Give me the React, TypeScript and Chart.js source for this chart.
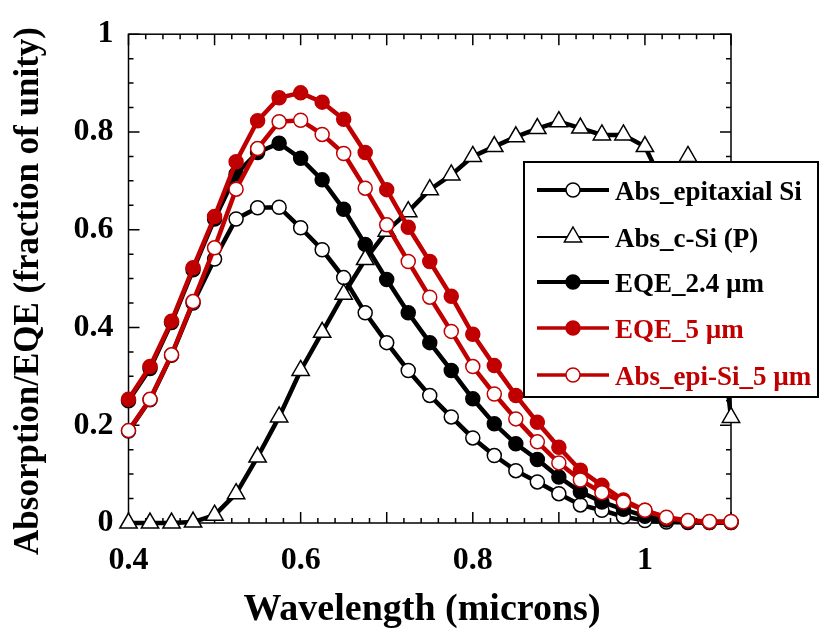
import React, { useEffect, useRef } from "react";
import { Chart, registerables } from "chart.js";

Chart.register(...registerables);

// ---------- data ----------
const wavelengths = [
  0.4, 0.425, 0.45, 0.475, 0.5, 0.525, 0.55, 0.575, 0.6, 0.625,
  0.65, 0.675, 0.7, 0.725, 0.75, 0.775, 0.8, 0.825, 0.85, 0.875,
  0.9, 0.925, 0.95, 0.975, 1.0, 1.025, 1.05, 1.075, 1.1,
];

const absEpitaxialSi = [
  0.188, 0.252, 0.343, 0.45, 0.54, 0.622, 0.645, 0.646, 0.604, 0.559,
  0.502, 0.43, 0.369, 0.312, 0.261, 0.217, 0.174, 0.138, 0.107, 0.084,
  0.06, 0.037, 0.026, 0.013, 0.005, 0.002, 0.001, 0.001, 0.001,
];

const absCSiP = [
  0.0, 0.0, 0.0, 0.002, 0.016, 0.06, 0.135, 0.217, 0.312, 0.39,
  0.468, 0.539, 0.597, 0.637, 0.682, 0.712, 0.75, 0.77, 0.79, 0.807,
  0.821, 0.808, 0.794, 0.794, 0.77, 0.68, 0.75, 0.6, 0.216,
];

const eqe24um = [
  0.25, 0.316, 0.41, 0.518, 0.622, 0.714, 0.758, 0.777, 0.746, 0.702,
  0.642, 0.57, 0.498, 0.43, 0.369, 0.312, 0.254, 0.203, 0.162, 0.13,
  0.094, 0.064, 0.043, 0.028, 0.014, 0.006, 0.002, 0.001, 0.001,
];

const eqe5um = [
  0.253, 0.32, 0.413, 0.522, 0.627, 0.739, 0.823, 0.87, 0.88, 0.861,
  0.826, 0.758, 0.682, 0.605, 0.535, 0.464, 0.386, 0.322, 0.261, 0.206,
  0.155, 0.108, 0.077, 0.047, 0.026, 0.01, 0.004, 0.002, 0.002,
];

const absEpiSi5um = [
  0.189, 0.253, 0.344, 0.453, 0.563, 0.683, 0.766, 0.821, 0.824, 0.795,
  0.756, 0.685, 0.61, 0.535, 0.462, 0.392, 0.32, 0.264, 0.213, 0.166,
  0.123, 0.088, 0.062, 0.043, 0.026, 0.012, 0.005, 0.003, 0.003,
];

const seriesNames = [
  "Abs_epitaxial Si",
  "Abs_c-Si (P)",
  "EQE_2.4 \u00b5m",
  "EQE_5 \u00b5m",
  "Abs_epi-Si_5 \u00b5m",
];

const xTickValues = [0.4, 0.6, 0.8, 1.0];
const xTickLabels = ["0.4", "0.6", "0.8", "1"];
const yTickValues = [0, 0.2, 0.4, 0.6, 0.8, 1.0];
const yTickLabels = ["0", "0.2", "0.4", "0.6", "0.8", "1"];

const xTitle = "Wavelength (microns)";
const yTitle = "Absorption/EQE (fraction of unity)";

// ---------- styles ----------
const RED = "#C00000";
const BLACK = "#000000";
const FONT = "'Liberation Serif', 'Times New Roman', Times, serif";

const toPoints = (ys: number[]) => wavelengths.map((x, i) => ({ x, y: ys[i] }));

type LegendStyle = {
  color: string;
  lineWidth: number;
  pointStyle: string;
  fill: string;
  radius: number;
};

const legendStyles: LegendStyle[] = [
  { color: BLACK, lineWidth: 4, pointStyle: "circle", fill: "#fff", radius: 7 },
  { color: BLACK, lineWidth: 2, pointStyle: "triangle", fill: "#fff", radius: 10 },
  { color: BLACK, lineWidth: 4, pointStyle: "circle", fill: BLACK, radius: 7 },
  { color: RED, lineWidth: 3.5, pointStyle: "circle", fill: RED, radius: 7 },
  { color: RED, lineWidth: 3.5, pointStyle: "circle", fill: "#fff", radius: 7 },
];

const framePlugin = {
  id: "frameTicks",
  beforeDatasetsDraw(chart: any) {
    const { ctx, chartArea } = chart;
    const { left, right, top, bottom } = chartArea;
    const xs = chart.scales.x;
    const ys = chart.scales.y;
    ctx.save();
    ctx.strokeStyle = "#000";
    ctx.lineWidth = 1.5;
    ctx.strokeRect(left, top, right - left, bottom - top);
    ctx.beginPath();
    for (let i = 0; i <= 35; i++) {
      const v = 0.4 + i * 0.02;
      const px = xs.getPixelForValue(v);
      const len = i % 5 === 0 ? 11 : 5;
      ctx.moveTo(px, bottom);
      ctx.lineTo(px, bottom - len);
      ctx.moveTo(px, top);
      ctx.lineTo(px, top + len);
    }
    for (let i = 0; i <= 20; i++) {
      const v = i * 0.05;
      const py = ys.getPixelForValue(v);
      const len = i % 4 === 0 ? 11 : 5;
      ctx.moveTo(left, py);
      ctx.lineTo(left + len, py);
      ctx.moveTo(right, py);
      ctx.lineTo(right - len, py);
    }
    ctx.stroke();
    ctx.restore();
  },
};

function drawMarker(ctx: CanvasRenderingContext2D, s: LegendStyle, x: number, y: number) {
  ctx.beginPath();
  if (s.pointStyle === "triangle") {
    const r = s.radius;
    ctx.moveTo(x, y - r);
    ctx.lineTo(x + r * 0.866, y + r * 0.5);
    ctx.lineTo(x - r * 0.866, y + r * 0.5);
    ctx.closePath();
  } else {
    ctx.arc(x, y, s.radius, 0, Math.PI * 2);
  }
  ctx.fillStyle = s.fill;
  ctx.fill();
  ctx.lineWidth = 1.5;
  ctx.strokeStyle = s.color;
  ctx.stroke();
}

const legendPlugin = {
  id: "boxLegend",
  afterDraw(chart: any) {
    const { ctx } = chart;
    const boxL = 524, boxT = 162, boxR = 818, boxB = 397;
    ctx.save();
    ctx.fillStyle = "#fff";
    ctx.fillRect(boxL, boxT, boxR - boxL, boxB - boxT);
    ctx.strokeStyle = "#000";
    ctx.lineWidth = 2;
    ctx.strokeRect(boxL, boxT, boxR - boxL, boxB - boxT);
    const rows = [190, 237, 282, 328, 375];
    seriesNames.forEach((name, i) => {
      const s = legendStyles[i];
      const y = rows[i];
      ctx.beginPath();
      ctx.strokeStyle = s.color;
      ctx.lineWidth = s.lineWidth;
      ctx.moveTo(537, y);
      ctx.lineTo(609, y);
      ctx.stroke();
      drawMarker(ctx, s, 573, y);
      ctx.fillStyle = s.color === RED ? RED : "#000";
      ctx.font = `bold 27px ${FONT}`;
      ctx.textAlign = "left";
      ctx.textBaseline = "alphabetic";
      ctx.fillText(name, 615, y + 9.5);
    });
    ctx.restore();
  },
};

const axisTitlePlugin = {
  id: "axisTitles",
  afterDraw(chart: any) {
    const { ctx } = chart;
    ctx.save();
    ctx.fillStyle = "#000";
    ctx.font = `bold 38px ${FONT}`;
    ctx.textAlign = "center";
    ctx.textBaseline = "alphabetic";
    ctx.fillText(xTitle, 422, 620);
    ctx.translate(29, 291);
    ctx.rotate(-Math.PI / 2);
    ctx.font = `bold 35px ${FONT}`;
    ctx.textBaseline = "middle";
    ctx.fillText(yTitle, 0, 0);
    ctx.restore();
  },
};

export default function App() {
  const canvasRef = useRef<HTMLCanvasElement | null>(null);

  useEffect(() => {
    document.body.style.margin = "0";
    const canvas = canvasRef.current;
    if (!canvas) return;

    const common = { showLine: true, clip: false as any, tension: 0 };
    const chart = new Chart(canvas, {
      type: "scatter",
      data: {
        datasets: [
          {
            ...common,
            label: seriesNames[0],
            data: toPoints(absEpitaxialSi),
            borderColor: BLACK,
            borderWidth: 4.5,
            pointStyle: "circle",
            pointRadius: 7,
            pointBackgroundColor: "#fff",
            pointBorderColor: BLACK,
            pointBorderWidth: 1.5,
            order: 4,
          },
          {
            ...common,
            label: seriesNames[1],
            data: toPoints(absCSiP),
            borderColor: BLACK,
            borderWidth: 4.5,
            pointStyle: "triangle",
            pointRadius: 10,
            pointBackgroundColor: "#fff",
            pointBorderColor: BLACK,
            pointBorderWidth: 1.5,
            order: 2,
          },
          {
            ...common,
            label: seriesNames[2],
            data: toPoints(eqe24um),
            borderColor: BLACK,
            borderWidth: 4.5,
            pointStyle: "circle",
            pointRadius: 7,
            pointBackgroundColor: BLACK,
            pointBorderColor: BLACK,
            pointBorderWidth: 1.5,
            order: 3,
          },
          {
            ...common,
            label: seriesNames[3],
            data: toPoints(eqe5um),
            borderColor: RED,
            borderWidth: 4.5,
            pointStyle: "circle",
            pointRadius: 7,
            pointBackgroundColor: RED,
            pointBorderColor: RED,
            pointBorderWidth: 1.5,
            order: 1,
          },
          {
            ...common,
            label: seriesNames[4],
            data: toPoints(absEpiSi5um),
            borderColor: RED,
            borderWidth: 4.5,
            pointStyle: "circle",
            pointRadius: 7,
            pointBackgroundColor: "#fff",
            pointBorderColor: RED,
            pointBorderWidth: 1.5,
            order: 0,
          },
        ] as any,
      },
      options: {
        responsive: false,
        animation: false,
        devicePixelRatio: 1,
        layout: { padding: { left: 0, right: 89, top: 32, bottom: 0 } },
        plugins: {
          legend: { display: false },
          tooltip: { enabled: false },
        },
        scales: {
          x: {
            type: "linear",
            min: 0.4,
            max: 1.1,
            afterBuildTicks: (s: any) => {
              s.ticks = xTickValues.map((v) => ({ value: v }));
            },
            afterFit: (s: any) => {
              s.height = 106;
            },
            ticks: {
              callback: (_v: any, i: number) => xTickLabels[i],
              font: { family: FONT, size: 32, weight: "bold" },
              color: "#000",
              padding: 19,
              maxRotation: 0,
              autoSkip: false,
            },
            grid: { display: false, drawTicks: false },
            border: { display: false },
          },
          y: {
            type: "linear",
            min: 0,
            max: 1,
            afterBuildTicks: (s: any) => {
              s.ticks = yTickValues.map((v) => ({ value: v }));
            },
            afterFit: (s: any) => {
              s.width = 128.5;
            },
            ticks: {
              callback: (_v: any, i: number) => yTickLabels[i],
              font: { family: FONT, size: 32, weight: "bold" },
              color: "#000",
              padding: 15,
              autoSkip: false,
            },
            grid: { display: false, drawTicks: false },
            border: { display: false },
          },
        },
      } as any,
      plugins: [framePlugin, legendPlugin, axisTitlePlugin],
    });

    return () => {
      chart.destroy();
    };
  }, []);

  return (
    <div style={{ width: 820, height: 629, background: "#fff" }}>
      <canvas ref={canvasRef} width={820} height={629} style={{ width: 820, height: 629 }} />
    </div>
  );
}
